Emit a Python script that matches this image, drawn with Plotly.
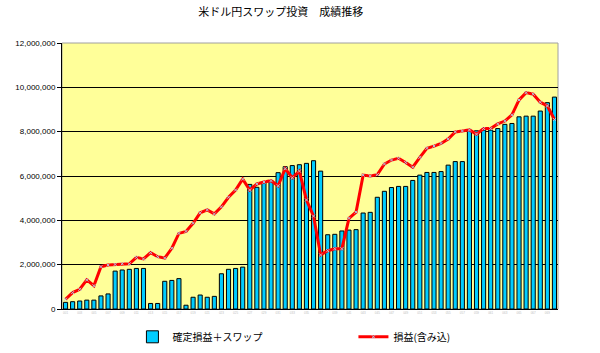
import plotly.graph_objects as go

# category labels (unreadable tiny labels in the reference; sequential periods)
categories = [f"{i+1:03d}" for i in range(70)]

# 確定損益＋スワップ (bars)
realized = [0.30, 0.33, 0.36, 0.40, 0.40, 0.59, 0.68,
            1.71, 1.76, 1.79, 1.83, 1.83,
            0.25, 0.25,
            1.25, 1.29, 1.37,
            0.17,
            0.53, 0.63, 0.53, 0.57,
            1.59, 1.79, 1.83, 1.89,
            5.62, 5.49, 5.70, 5.79, 6.15, 6.42, 6.47, 6.51, 6.57, 6.69, 6.22,
            3.35, 3.37, 3.52, 3.56, 3.58,
            4.33, 4.36,
            5.04, 5.31, 5.48, 5.53, 5.53, 5.80,
            6.04, 6.16, 6.16, 6.20, 6.49, 6.65, 6.65,
            8.06, 8.04, 8.07, 8.07, 8.14, 8.33, 8.37, 8.67, 8.70, 8.70, 8.93, 9.31, 9.56]
realized = [v * 1e6 for v in realized]

# 損益(含み込) (line)
total = [0.44, 0.74, 0.89, 1.31, 1.05, 1.91, 1.98, 2.01, 2.04, 2.04,
         2.33, 2.26, 2.54, 2.36, 2.30, 2.74, 3.41, 3.50, 3.87, 4.34,
         4.47, 4.29, 4.61, 5.04, 5.37, 5.86, 5.37, 5.64, 5.73, 5.79,
         5.56, 6.33, 5.92, 6.22, 4.92, 4.19, 2.44, 2.63, 2.72, 2.72,
         4.09, 4.37, 6.04, 6.00, 6.06, 6.54, 6.72, 6.80, 6.61, 6.40,
         6.84, 7.25, 7.35, 7.47, 7.67, 7.99, 8.03, 8.08, 7.89, 8.14,
         8.14, 8.35, 8.48, 8.76, 9.43, 9.76, 9.69, 9.33, 9.16, 8.55]
total = [v * 1e6 for v in total]

y_ticks = [0, 2000000, 4000000, 6000000, 8000000, 10000000, 12000000]
y_labels = ["0", "2,000,000", "4,000,000", "6,000,000", "8,000,000", "10,000,000", "12,000,000"]

jp = "Noto Sans CJK JP"
num = "Liberation Sans, Arial"

fig = go.Figure()
fig.add_trace(go.Bar(
    x=categories, y=realized, name="確定損益＋スワップ",
    marker=dict(color="#00CCFF", line=dict(color="#000000", width=1)),
))
fig.add_trace(go.Scatter(
    x=categories, y=total, name="損益(含み込)", mode="lines+markers",
    line=dict(color="#FF0000", width=3),
    marker=dict(size=3, color="#C8B8D8", symbol="x-thin", line=dict(color="#B0C4DE", width=1)),
))

fig.update_layout(
    width=600, height=353,
    margin=dict(l=62, r=42, t=43, b=44, autoexpand=False),
    paper_bgcolor="#FFFFFF",
    plot_bgcolor="#FFFF99",
    bargap=0.42,
    showlegend=True,
    title=dict(text="米ドル円スワップ投資　成績推移", x=0.468, xanchor="center",
               y=0.965, yanchor="middle",
               font=dict(family=jp, size=11, color="#000000")),
    legend=dict(orientation="h", x=0.142, xanchor="left", y=-0.05, yanchor="top",
                font=dict(family=jp, size=10, color="#000000"),
                entrywidth=176, entrywidthmode="pixels",
                itemwidth=30, bgcolor="rgba(0,0,0,0)"),
    shapes=[dict(type="rect", xref="paper", yref="paper", x0=0, x1=1, y0=0, y1=1,
                 line=dict(color="#A0A0A0", width=1), layer="below")],
)
fig.update_xaxes(
    type="category", range=[-0.5, 69.5], autorange=False,
    showgrid=False, showline=True, linecolor="#000000", linewidth=1,
    tickmode="array", tickvals=categories[::2], ticktext=categories[::2],
    tickfont=dict(family=num, size=3, color="#C0C0C0"), ticks="", tickangle=0,
)
fig.update_yaxes(
    range=[0, 12000000], tickvals=y_ticks, ticktext=y_labels,
    showgrid=True, gridcolor="#000000", gridwidth=1,
    showline=True, linecolor="#000000", linewidth=1,
    ticks="outside", ticklen=4, tickcolor="#000000",
    tickfont=dict(family=num, size=8, color="#000000"), zeroline=False,
)

fig.write_html("out.html")
